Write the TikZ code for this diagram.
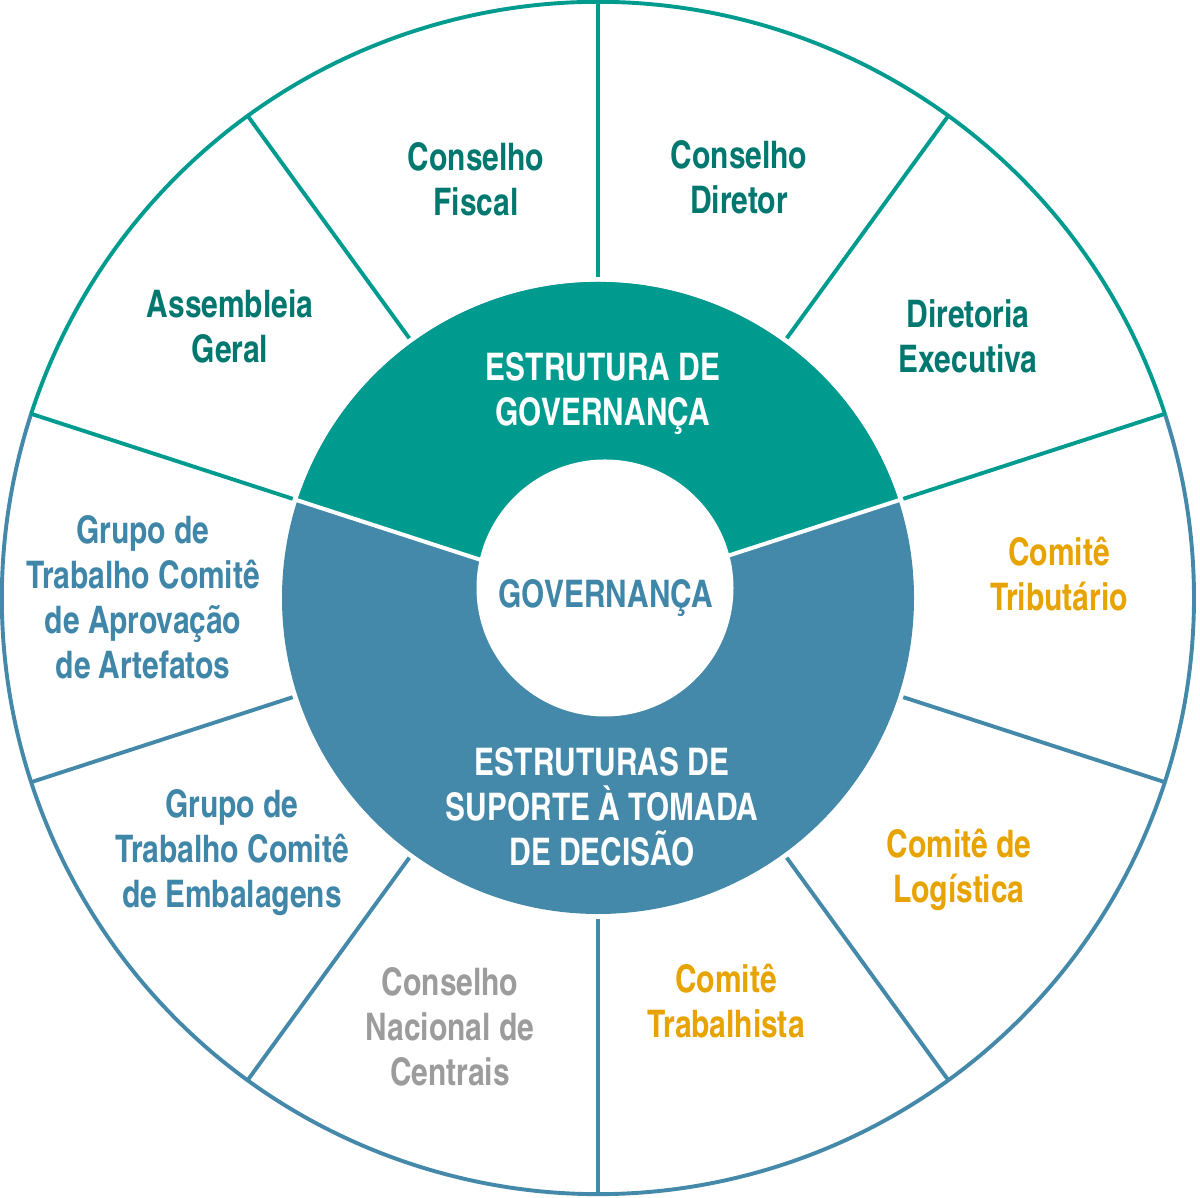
\documentclass[tikz,border=0pt]{standalone}
\usepackage{fontspec}
\newfontfamily\cnb{texgyreheroscn-bold}[Extension=.otf, FakeStretch=0.96]
\definecolor{ringteal}{HTML}{009B8F}
\definecolor{ringblue}{HTML}{4489A9}
\definecolor{txtteal}{HTML}{00786F}
\definecolor{txtblue}{HTML}{3F86A8}
\definecolor{txtorange}{HTML}{E7A300}
\definecolor{txtgray}{HTML}{9C9C9C}
\tikzset{
  lbl/.style={anchor=north, inner sep=0pt, align=center,
    font=\cnb\fontsize{38}{45}\selectfont},
  tealline/.style={draw=ringteal, line width=3.9pt},
  blueline/.style={draw=ringblue, line width=3.9pt},
}
\newcommand{\firstline}{\rule{0pt}{40pt}}
\begin{document}
\begin{tikzpicture}[x=1pt,y=1pt]
\useasboundingbox (0,0) rectangle (1200,1198);
\coordinate (C) at (598,600);
\coordinate (W) at (605,610);
% inner ring
\fill[ringblue] (C) circle[radius=316];
\fill[ringteal] (C) -- ++(18:316) arc[start angle=18,end angle=162,radius=316] -- cycle;
\draw[white, line width=4pt] (C) -- ++(18:318);
\draw[white, line width=4pt] (C) -- ++(162:318);
\fill[white] (W) circle[radius=128.5];
% outer circle
\draw[tealline] (C) ++(18:596) arc[start angle=18,end angle=162,radius=596];
\draw[blueline] (C) ++(162:596) arc[start angle=162,end angle=378,radius=596];
% dividers
\foreach \a in {18,54,90,126,162}
  \draw[tealline] (C) ++(\a:321) -- ++(\a:276);
\foreach \a in {198,234,270,306,342}
  \draw[blueline] (C) ++(\a:321) -- ++(\a:276);
% labels (anchor north = baseline of first line - 40)
\node[lbl, text=txtteal] (cf) at (476,1068) {\firstline Conselho\\Fiscal};
\node[lbl, text=txtteal] (cd) at (739,1070) {\firstline Conselho\\Diretor};
\node[lbl, text=txtteal] (ag) at (230,921) {\firstline Assembleia\\Geral};
\node[lbl, text=txtteal] (de) at (968,911) {\firstline Diretoria\\Executiva};
\node[lbl, text=white] (eg) at (603,858) {\firstline ESTRUTURA DE\\GOVERNANÇA};
\node[lbl, text=txtblue] (ga) at (143,695) {\firstline Grupo de\\Trabalho Comitê\\de Aprovação\\de Artefatos};
\node[lbl, text=txtblue] (gov) at (606,631) {\firstline GOVERNANÇA};
\node[lbl, text=txtorange] (ct) at (1059,673) {\firstline Comitê\\Tributário};
\node[lbl, text=txtblue] (gem) at (232,421) {\firstline Grupo de\\Trabalho Comitê\\de Embalagens};
\node[lbl, text=white] (es) at (602,463) {\firstline ESTRUTURAS DE\\SUPORTE À TOMADA\\DE DECISÃO};
\node[lbl, text=txtorange] (cl) at (959,381) {\firstline Comitê de\\Logística};
\node[lbl, text=txtgray] (cn) at (450,243) {\firstline Conselho\\Nacional de\\Centrais};
\node[lbl, text=txtorange] (ctr) at (726,246) {\firstline Comitê\\Trabalhista};
\end{tikzpicture}
\end{document}
